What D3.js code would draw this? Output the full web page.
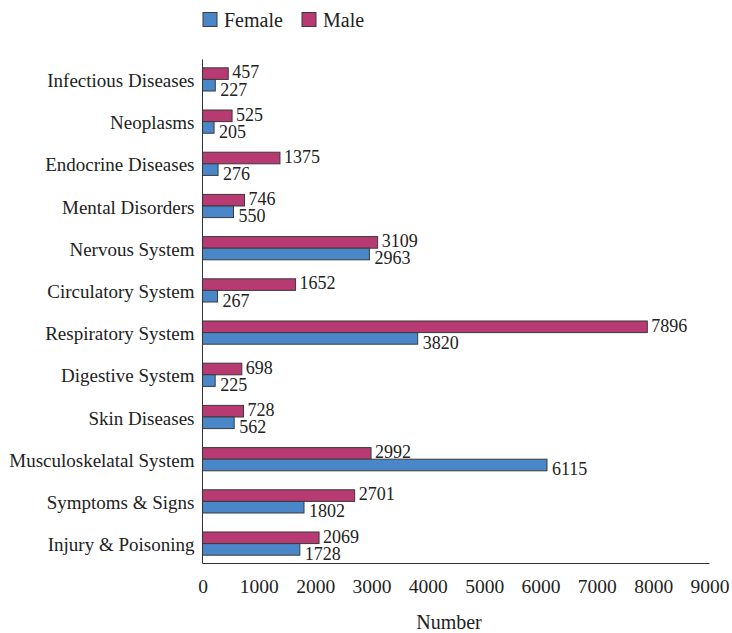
<!DOCTYPE html>
<html><head><meta charset="utf-8">
<script src="https://cdn.jsdelivr.net/npm/d3@7"></script>
<style>body{margin:0;background:#fff}svg{display:block}</style>
</head><body>
<svg id="c" width="732" height="633" style="font-family:'Liberation Serif','DejaVu Serif',serif"></svg>
<script>
const categories = ["Infectious Diseases","Neoplasms","Endocrine Diseases","Mental Disorders","Nervous System","Circulatory System","Respiratory System","Digestive System","Skin Diseases","Musculoskelatal System","Symptoms & Signs","Injury & Poisoning"];
const maleValues = [457,525,1375,746,3109,1652,7896,698,728,2992,2701,2069];
const femaleValues = [227,205,276,550,2963,267,3820,225,562,6115,1802,1728];
const xTicks = [0,1000,2000,3000,4000,5000,6000,7000,8000,9000];
const seriesNames = ["Female","Male"];
const colors = {Female:"#4a87c9", Male:"#b73a73"};

(function(){
const FF = "'Liberation Serif','DejaVu Serif',serif";
const svg = d3.select("#c");
const mL = 202.5, mR = 709.5, mT = 59.5, mB = 563.5;
const x = d3.scaleLinear().domain([0,9000]).range([mL,mR]);
const y = d3.scaleBand().domain(categories).range([mT,mB]).paddingInner(0.45).paddingOuter(0.197);
const sub = d3.scaleBand().domain(["Male","Female"]).range([0,y.bandwidth()]);

const rows = categories.map((c,i)=>({c, Male:maleValues[i], Female:femaleValues[i]}));

const g = svg.append("g");
["Male","Female"].forEach(s=>{
  g.selectAll(".b"+s).data(rows).join("rect")
    .attr("x", x(0)).attr("y", d=>y(d.c)+sub(s))
    .attr("width", d=>x(d[s])-x(0)).attr("height", sub.bandwidth())
    .attr("fill", colors[s]).attr("stroke","#3a3a3a").attr("stroke-width",1);
  g.selectAll(".l"+s).data(rows).join("text")
    .attr("x", d=>x(d[s])+(s==="Male"?4:5))
    .attr("y", d=>y(d.c)+sub(s)+sub.bandwidth()+(s==="Male"?-1:4.5))
    .style("font-family",FF).style("font-size","18px").attr("fill","#222").text(d=>d[s]);
});

const ya = svg.append("g").attr("transform",`translate(${mL},0)`).call(d3.axisLeft(y).tickSize(0).tickPadding(8));
ya.attr("font-family",null).attr("font-size",null);
ya.select(".domain").attr("stroke","#333").attr("d",`M0,${mT}V${mB}`);
ya.selectAll("text").style("font-family",FF).style("font-size","19px").attr("fill","#222").attr("dy","0.4em");

const xa = svg.append("g").attr("transform",`translate(0,${mB})`).call(d3.axisBottom(x).tickValues(xTicks).tickSize(0).tickPadding(0).tickFormat(d3.format("d")));
xa.attr("font-family",null).attr("font-size",null);
xa.select(".domain").attr("stroke","#333").attr("d",`M${mL},0H${mR}`);
xa.selectAll("text").style("font-family",FF).style("font-size","19.5px").attr("fill","#222").attr("y",29).attr("dy",null);

svg.append("text").attr("x",449).attr("y",629).attr("text-anchor","middle").style("font-family",FF).style("font-size","20px").attr("fill","#222").text("Number");

const lg = svg.append("g");
const lx = [203,302];
seriesNames.forEach((s,i)=>{
  lg.append("rect").attr("x",lx[i]).attr("y",12.5).attr("width",14).attr("height",14).attr("fill",colors[s]).attr("stroke","#3a3a3a");
  lg.append("text").attr("x",lx[i]+21).attr("y",26.5).style("font-family",FF).style("font-size","20px").attr("fill","#222").text(s);
});
})();
</script>
</body></html>
